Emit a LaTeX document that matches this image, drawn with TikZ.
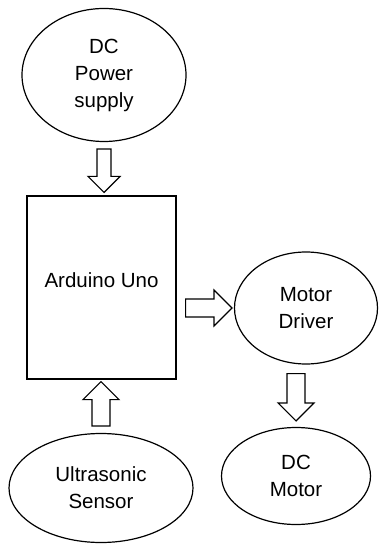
\documentclass[tikz,border=0pt]{standalone}
\usepackage{fontspec}
\setmainfont{Liberation Sans}
\usetikzlibrary{shapes,calc,positioning}

% hollow block arrow: half shaft width, half head width, from, to
\newcommand{\blockarrow}[4]{%
  \coordinate (hb) at ($(#4)!#2pt!(#3)$);
  \draw[line width=1.2pt,line join=miter] ($(#3)!#1pt!90:(#4)$) -- ($(hb)!#1pt!90:(#4)$) -- ($(hb)!#2pt!90:(#4)$) -- (#4) -- ($(hb)!#2pt!-90:(#4)$) -- ($(hb)!#1pt!-90:(#4)$) -- ($(#3)!#1pt!-90:(#4)$) -- cycle;
}

\begin{document}
\begin{tikzpicture}[x=1pt,y=-1pt,
  font=\fontsize{20.5}{27}\selectfont,
  blob/.style={draw,ellipse,line width=1.2pt,align=center,inner sep=0pt},
  box/.style={draw,rectangle,line width=1.2pt,inner sep=0pt}]
\useasboundingbox (0,0) rectangle (379,545);
\node[blob,minimum width=164pt,minimum height=133pt] (power) at (104,75) {DC\\Power\\supply};
\node[box,minimum width=149pt,minimum height=183pt,label={[yshift=7pt]center:Arduino Uno}] (uno) at (101.5,287.5) {};
\node[blob,minimum width=143pt,minimum height=112pt] (driver) at (306,308) {Motor\\Driver};
\node[blob,minimum width=149pt,minimum height=97pt] (motor) at (296,476) {DC\\Motor};
\node[blob,minimum width=184pt,minimum height=109pt] (sensor) at (101,488) {Ultrasonic\\Sensor};
\coordinate (a1s) at ($(power.south)+(0,7)$);
\coordinate (a1e) at ($(power.south |- uno.north)+(0,-3)$);
\coordinate (a2s) at ($(uno.east |- driver.west)+(9,0)$);
\coordinate (a2e) at ($(driver.west)+(-2,0)$);
\coordinate (a3s) at ($(motor.north |- driver.south)+(0,9)$);
\coordinate (a3e) at ($(motor.north)+(0,-6)$);
\coordinate (a4s) at ($(sensor.north)+(0,-7)$);
\coordinate (a4e) at ($(sensor.north |- uno.south)+(0,2)$);
\blockarrow{7}{16}{a1s}{a1e}
\blockarrow{9}{18}{a2s}{a2e}
\blockarrow{9}{18}{a3s}{a3e}
\blockarrow{9}{18}{a4s}{a4e}
\end{tikzpicture}
\end{document}
